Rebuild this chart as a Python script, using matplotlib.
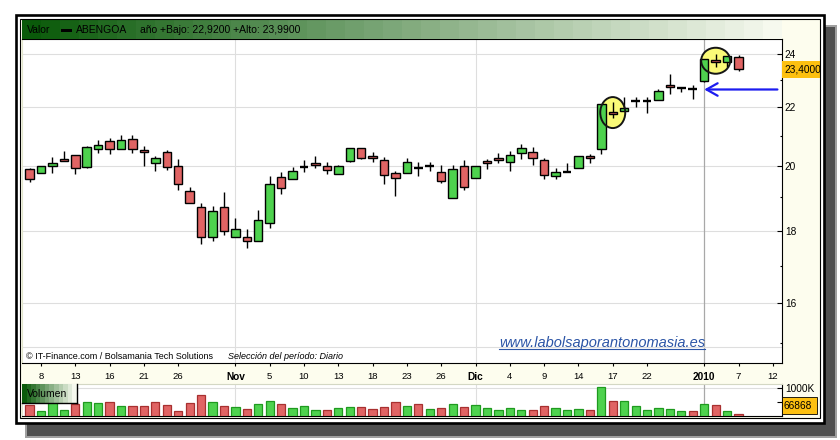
import matplotlib
matplotlib.use("Agg")
import matplotlib.pyplot as plt
import numpy as np
from matplotlib import patches, transforms
from matplotlib.lines import Line2D
from matplotlib.colors import to_rgb

W, H = 840, 440
FONT = "Liberation Sans"

# ABENGOA, sesiones del 7-oct-2009 al 7-ene-2010
opens = [19.89, 19.77, 19.99, 20.22, 20.36, 19.96, 20.55, 20.82, 20.55, 20.89,
         20.52, 20.09, 20.46, 19.99, 19.20, 18.72, 17.83, 18.72, 17.83, 17.83,
         17.69, 18.24, 19.65, 19.57, 19.98, 20.09, 19.99, 19.74, 20.15, 20.59,
         20.32, 20.19, 19.77, 19.77, 19.94, 20.00, 19.80, 18.98, 19.99, 19.61,
         20.15, 20.26, 20.12, 20.42, 20.46, 20.19, 19.67, 19.82, 19.93, 20.32,
         20.55, 21.85, 21.88, 22.24, 22.24, 22.28, 22.83, 22.72, 22.65, 22.98,
         23.77, 23.68, 23.87]
highs = [19.92, 19.99, 20.30, 20.49, 20.36, 20.67, 20.87, 20.93, 21.04, 21.04,
         20.67, 20.33, 20.52, 20.22, 19.33, 18.84, 18.75, 19.18, 18.39, 18.05,
         18.63, 19.69, 19.82, 19.97, 20.19, 20.33, 20.12, 20.02, 20.59, 20.59,
         20.46, 20.30, 19.83, 20.26, 20.12, 20.12, 20.02, 20.02, 20.19, 19.99,
         20.22, 20.42, 20.49, 20.73, 20.62, 20.26, 19.93, 20.09, 20.32, 20.39,
         22.11, 22.21, 22.37, 22.39, 22.39, 22.68, 23.21, 22.76, 22.80, 23.80,
         23.99, 23.91, 23.95]
lows = [19.49, 19.77, 19.76, 20.15, 19.73, 19.92, 20.41, 20.38, 20.55, 20.44,
        20.01, 19.83, 19.86, 19.22, 18.84, 17.62, 17.71, 17.86, 17.83, 17.49,
        17.69, 18.07, 19.12, 19.57, 19.82, 19.92, 19.73, 19.74, 20.12, 20.22,
        20.12, 19.41, 19.03, 19.77, 19.66, 19.83, 19.45, 18.98, 19.23, 19.61,
        19.89, 20.09, 19.83, 20.22, 20.02, 19.57, 19.57, 19.82, 19.93, 20.09,
        20.39, 21.63, 21.88, 22.03, 21.81, 22.28, 22.50, 22.54, 22.32, 22.92,
        23.49, 23.49, 23.33]
closes = [19.57, 19.99, 20.09, 20.15, 19.93, 20.62, 20.69, 20.55, 20.86, 20.55,
          20.46, 20.26, 19.96, 19.42, 18.84, 17.83, 18.60, 17.98, 18.05, 17.69,
          18.32, 19.42, 19.29, 19.83, 19.98, 20.02, 19.86, 19.99, 20.59, 20.26,
          20.26, 19.71, 19.61, 20.12, 19.94, 20.00, 19.51, 19.89, 19.32, 19.99,
          20.09, 20.19, 20.36, 20.59, 20.26, 19.71, 19.80, 19.82, 20.32, 20.26,
          22.11, 21.78, 21.98, 22.24, 22.24, 22.61, 22.76, 22.72, 22.65, 23.80,
          23.70, 23.91, 23.40]
# volumen (miles de titulos) y color de barra: 1 verde, 0 roja
vol_k = [370, 150, 480, 210, 440, 510, 470, 510, 360, 360,
         360, 510, 400, 175, 470, 770, 510, 360, 320, 250,
         430, 545, 430, 285, 360, 210, 210, 285, 320, 320,
         250, 320, 510, 360, 430, 250, 285, 430, 320, 400,
         285, 210, 285, 210, 210, 360, 285, 210, 250, 210,
         1060, 545, 545, 360, 210, 285, 250, 175, 175, 430,
         400, 175, 66.868]
vol_up = [0, 1, 1, 1, 0, 1, 1, 0, 1, 0,
          0, 0, 0, 0, 0, 0, 1, 0, 1, 0,
          1, 1, 0, 1, 1, 1, 0, 1, 1, 0,
          0, 0, 0, 1, 0, 1, 0, 1, 0, 1,
          1, 1, 1, 1, 0, 0, 1, 1, 1, 0,
          1, 0, 1, 1, 1, 1, 1, 1, 0, 1,
          0, 1, 0]

tick_pos = [1, 4, 7, 10, 13, 18, 21, 24, 27, 30, 33, 36, 39, 42, 45, 48, 51, 54, 59, 62, 65]
tick_labels = ["8", "13", "16", "21", "26", "Nov", "5", "10", "13", "18", "23", "26",
               "Dic", "4", "9", "14", "17", "22", "2010", "7", "12"]
bold_ticks = ["Nov", "Dic", "2010"]
month_lines = [18, 39]
year_line = 59
price_ticks = [16, 18, 20, 22, 24]
price_minor = [15, 17, 19, 21, 23]
circled = [51, 60]

GREEN = "#4ed24e"
RED = "#e06464"
GRID = "#dedede"
CREAM = "#fdfdee"
ORANGE = "#fdc010"

plt.rcParams["font.family"] = [FONT, "DejaVu Sans"]

fig = plt.figure(figsize=(W / 100, H / 100), dpi=100)
fig.patch.set_facecolor("white")


def box(x0, y0, x1, y1):
    return [x0 / W, 1 - y1 / H, (x1 - x0) / W, (y1 - y0) / H]


def rect(x0, y0, x1, y1, **kw):
    p = patches.Rectangle((x0 / W, 1 - y1 / H), (x1 - x0) / W, (y1 - y0) / H,
                          transform=fig.transFigure, **kw)
    fig.patches.append(p)
    return p


def gradient(a, c0, c1, steps):
    t = np.linspace(0, 1, steps)
    c0, c1 = np.array(to_rgb(c0)), np.array(to_rgb(c1))
    img = (c0[None, :] + (c1 - c0)[None, :] * t[:, None])[None, :, :]
    a.imshow(img, aspect="auto", extent=[0, 1, 0, 1], interpolation="nearest")
    a.set_xlim(0, 1)
    a.set_ylim(0, 1)
    a.set_xticks([])
    a.set_yticks([])


# sombra y marcos
rect(25, 25, 837, 438, fc="#a0a0a0", ec="none", zorder=-5)
rect(27, 27, 835, 436, fc="#505050", ec="none", zorder=-4)
rect(15.5, 15.5, 823.5, 423, fc="white", ec="black", lw=1.9, zorder=-3)
rect(20, 20, 820, 417.5, fc=CREAM, ec="none", zorder=-2)
rect(19.5, 19.5, 820, 417.5, fc="none", ec="black", lw=0.8, zorder=6)

# grafico principal
n = len(closes)
idx = np.arange(n)
ax = fig.add_axes(box(22, 39, 782, 362.7))
ax.set_facecolor("white")
ax.set_yscale("log")
ax.set_ylim(14.52, 24.59)
ax.set_xlim(-0.66, 65.8)

for i in idx:
    o, h, l, c = opens[i], highs[i], lows[i], closes[i]
    ax.vlines(i, l, h, color="black", lw=1.0, zorder=3)
    if c == o:
        ax.hlines(c, i - 0.38, i + 0.38, color="black", lw=1.7, zorder=4)
    else:
        ax.bar(i, abs(c - o), bottom=min(o, c), width=0.74,
               color=GREEN if c > o else RED, edgecolor="black", lw=1.0, zorder=4)

ax.set_yticks(price_ticks)
ax.set_yticklabels([str(v) for v in price_ticks])
ax.set_yticks(price_minor, minor=True)
ax.set_yticklabels([], minor=True)
ax.yaxis.tick_right()
ax.tick_params(axis="y", which="major", direction="in", length=3.3, width=0.8,
               pad=2, labelsize=7.3)
ax.tick_params(axis="y", which="minor", direction="in", length=1.6, width=0.8)
ax.yaxis.grid(True, which="major", color=GRID, lw=0.8)
ax.set_axisbelow(True)
for m in month_lines:
    ax.axvline(m, color=GRID, lw=0.8, zorder=1)
ax.axvline(year_line, color="#a8a8a8", lw=0.9, zorder=1)

ax.set_xticks(tick_pos)
ax.set_xticklabels(tick_labels, fontsize=6.8)
for t in ax.get_xticklabels():
    if t.get_text() in bold_ticks:
        t.set_fontweight("bold")
        t.set_fontsize(7.3)
ax.tick_params(axis="x", direction="out", length=2.2, width=0.8, pad=4.5)
ax.spines["left"].set_color("#e2e6cc")
for s in ["right", "bottom", "top"]:
    ax.spines[s].set_color("black")
    ax.spines[s].set_linewidth(0.8)

# linea de la franja del copyright
ax.add_line(Line2D([0, 1], [1 - (347.3 - 39) / (362.7 - 39)] * 2, transform=ax.transAxes,
                   color=GRID, lw=0.8, zorder=1))

# elipses amarillas sobre las velas marcadas
for ci, (w_in, h_in) in zip(circled, [(0.25, 0.31), (0.29, 0.26)]):
    mid = (opens[ci] + closes[ci]) / 2
    tr = fig.dpi_scale_trans + transforms.ScaledTranslation(ci, mid, ax.transData)
    ax.add_patch(patches.Ellipse((0, 0), w_in, h_in, transform=tr,
                                 fc="#fafa78", ec="none", zorder=2))
    ax.add_patch(patches.Ellipse((0, 0), w_in, h_in, transform=tr,
                                 fc="none", ec="#151515", lw=1.4, zorder=5))

# flecha azul hacia el hueco de apertura del año
ax.annotate("", xy=(year_line, closes[year_line - 1]), xytext=(65.4, closes[year_line - 1]),
            arrowprops=dict(arrowstyle="->,head_length=0.8,head_width=0.45",
                            color="#1c1cf0", lw=1.6, shrinkA=0, shrinkB=0), zorder=6)

# cabecera
hax = fig.add_axes(box(22, 20.5, 782, 39))
gradient(hax, "#0a5a0a", "#f6f9ee", 40)
for s in hax.spines.values():
    s.set_visible(False)
yy = 1 - 30 / H
fig.text(27 / W, yy, "Valor", fontsize=7.5, va="center", zorder=7)
rect(61, 28.7, 71.5, 31.8, fc="black", ec="none", zorder=7)
fig.text(76 / W, yy, "ABENGOA", fontsize=7.5, va="center", zorder=7)
year_low = min(lows[year_line:])
year_high = max(highs[year_line:])
hdr = "año +Bajo: {:.4f} +Alto: {:.4f}".format(year_low, year_high).replace(".", ",")
fig.text(140 / W, yy, hdr, fontsize=7.5, va="center", zorder=7)

# textos inferiores del grafico
fig.text(26 / W, 1 - 356.5 / H, "© IT-Finance.com / Bolsamania Tech Solutions",
         fontsize=6.5, va="center")
fig.text(228 / W, 1 - 356.5 / H, "Selección del período: Diario",
         fontsize=6.5, va="center", style="italic")
url = fig.text(499 / W, 1 - 347 / H, "www.labolsaporantonomasia.es", fontsize=10.5,
               va="baseline", style="italic", color="#2c55a6")

# panel de volumen
vax = fig.add_axes(box(22, 384, 782, 415.5))
vax.set_facecolor("white")
vax.bar(idx, vol_k, width=0.72,
        color=[GREEN if u else RED for u in vol_up],
        edgecolor=["#1f9a1f" if u else "#a83030" for u in vol_up], lw=0.9, zorder=3)
vax.set_xlim(ax.get_xlim())
vax.set_ylim(0, 1160)
vax.set_xticks([])
vax.set_yticks([500, 1000])
vax.set_yticklabels(["", "1000K"])
vax.yaxis.tick_right()
vax.tick_params(axis="y", direction="in", length=3.3, width=0.8, pad=2, labelsize=7.3)
vax.axhline(1000, color=GRID, lw=0.8, zorder=1)
for m in month_lines:
    vax.axvline(m, color=GRID, lw=0.8, zorder=1)
vax.axvline(year_line, color="#a8a8a8", lw=0.9, zorder=1)
vax.spines["top"].set_color("#d4d8c4")
vax.spines["left"].set_color("#e2e6cc")
vax.spines["right"].set_color("black")
vax.spines["bottom"].set_color("black")

bax = fig.add_axes(box(22, 384.3, 76.5, 403.3))
gradient(bax, "#0a5a0a", "#f6f9ee", 12)
for s in ["top", "left"]:
    bax.spines[s].set_visible(False)
for s in ["right", "bottom"]:
    bax.spines[s].set_color("black")
    bax.spines[s].set_linewidth(1.0)
fig.text(27 / W, 1 - 393.5 / H, "Volumen", fontsize=7.5, va="center", zorder=7)

# etiquetas de valor actual
fig.canvas.draw()
y_last = ax.transData.transform((0, closes[-1]))[1]
pb = patches.Rectangle((782 / W, (y_last - 8.3) / H), 38 / W, 16.6 / H,
                       transform=fig.transFigure, fc=ORANGE, ec="none", zorder=4)
fig.patches.append(pb)
t = fig.text(784 / W, y_last / H, "{:.4f}".format(closes[-1]).replace(".", ","),
             fontsize=7.3, va="center", zorder=5)
t.set_clip_path(pb)
rect(782, 397.3, 817, 414, fc=ORANGE, ec="black", lw=0.6, zorder=4)
fig.text(784 / W, 1 - 405.7 / H, "{:.0f}".format(vol_k[-1] * 1000), fontsize=7.3,
         va="center", zorder=5)

bb = url.get_window_extent()
fig.add_artist(Line2D([bb.x0 / W, bb.x1 / W], [(H - 349.3) / H] * 2,
                      transform=fig.transFigure, color="#2c55a6", lw=0.8))

fig.savefig("out.png", dpi=100)
